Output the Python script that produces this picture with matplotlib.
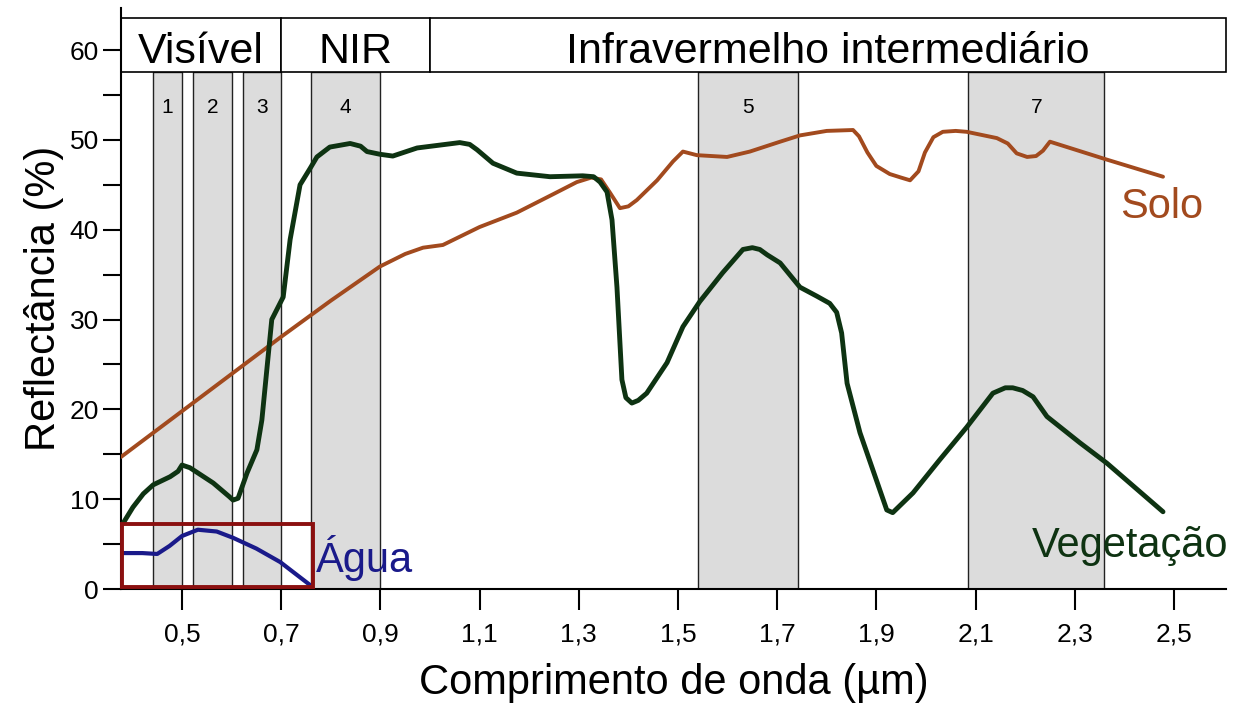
import matplotlib.pyplot as plt
from matplotlib.patches import Rectangle

plt.rcParams['font.family'] = ['Liberation Sans', 'DejaVu Sans']

# curves (wavelength in um, reflectance in %)
solo_x = [0.377, 0.698, 0.80, 0.899, 0.95, 0.986, 1.026, 1.10, 1.175, 1.25, 1.296, 1.325,
          1.345, 1.362, 1.383, 1.40, 1.417, 1.458, 1.49, 1.51, 1.538, 1.599, 1.645, 1.706,
          1.746, 1.80, 1.853, 1.865, 1.882, 1.90, 1.927, 1.95, 1.968, 1.985, 1.998, 2.015,
          2.034, 2.06, 2.082, 2.143, 2.165, 2.183, 2.204, 2.222, 2.236, 2.25, 2.365, 2.478]
solo_y = [14.7, 28.0, 32.1, 35.9, 37.3, 38.0, 38.3, 40.3, 41.9, 44.0, 45.3, 45.8,
          45.6, 44.2, 42.4, 42.6, 43.3, 45.5, 47.6, 48.7, 48.3, 48.1, 48.7, 49.8,
          50.5, 51.0, 51.1, 50.4, 48.6, 47.1, 46.2, 45.8, 45.5, 46.5, 48.6, 50.3,
          50.9, 51.0, 50.9, 50.2, 49.6, 48.5, 48.1, 48.2, 48.8, 49.8, 47.8, 45.9]

veg_x = [0.381, 0.401, 0.422, 0.442, 0.476, 0.492, 0.50, 0.516, 0.563, 0.595, 0.603, 0.613,
         0.631, 0.651, 0.661, 0.671, 0.681, 0.704, 0.718, 0.738, 0.758, 0.772, 0.798, 0.839,
         0.86, 0.873, 0.899, 0.925, 0.974, 1.06, 1.08, 1.095, 1.127, 1.175, 1.242, 1.308,
         1.33, 1.343, 1.357, 1.367, 1.377, 1.387, 1.395, 1.407, 1.42, 1.437, 1.478, 1.51,
         1.544, 1.59, 1.631, 1.65, 1.665, 1.68, 1.706, 1.746, 1.78, 1.806, 1.82, 1.83,
         1.841, 1.867, 1.921, 1.933, 1.974, 2.028, 2.082, 2.135, 2.16, 2.175, 2.195,
         2.216, 2.244, 2.31, 2.365, 2.478]
veg_y = [7.3, 9.1, 10.6, 11.6, 12.5, 13.1, 13.8, 13.5, 11.8, 10.3, 9.9, 10.1,
         12.9, 15.5, 18.8, 24.4, 30.0, 32.5, 38.9, 45.0, 46.8, 48.1, 49.2, 49.6,
         49.3, 48.7, 48.4, 48.2, 49.1, 49.7, 49.5, 48.9, 47.4, 46.3, 45.9, 46.0,
         45.9, 45.3, 44.2, 41.1, 33.6, 23.3, 21.3, 20.7, 21.0, 21.8, 25.2, 29.2,
         32.0, 35.2, 37.8, 38.0, 37.8, 37.2, 36.3, 33.6, 32.6, 31.8, 30.8, 28.5,
         22.9, 17.4, 8.8, 8.5, 10.7, 14.4, 18.0, 21.8, 22.4, 22.4, 22.1,
         21.4, 19.2, 16.3, 14.0, 8.6]

agua_x = [0.377, 0.42, 0.45, 0.475, 0.50, 0.532, 0.57, 0.603, 0.65, 0.698, 0.758]
agua_y = [4.0, 4.0, 3.9, 4.8, 5.9, 6.6, 6.4, 5.7, 4.5, 3.0, 0.45]

# Landsat TM bands
band_names = ['1', '2', '3', '4', '5', '7']
band_start = [0.442, 0.522, 0.623, 0.76, 1.54, 2.085]
band_end = [0.50, 0.60, 0.70, 0.90, 1.742, 2.36]

regions = ['Visível', 'NIR', 'Infravermelho intermediário']
region_edges = [0.377, 0.70, 1.0, 2.605]

fig = plt.figure(figsize=(12.36, 7.07), dpi=100)
ax = fig.add_axes([0.0979, 0.1669, 0.894, 0.822])
ax.set_xlim(0.377, 2.605)
ax.set_ylim(0, 64.7)

box_lo, box_hi = 57.6, 63.6

for name, a, b in zip(band_names, band_start, band_end):
    ax.add_patch(Rectangle((a, 0), b - a, box_lo, facecolor='#dcdcdc',
                           edgecolor='#222222', linewidth=1.0, zorder=1))
    ax.text((a + b) / 2, 53.6, name, ha='center', va='center', fontsize=15, zorder=5)

for name, a, b in zip(regions, region_edges[:-1], region_edges[1:]):
    ax.add_patch(Rectangle((a, box_lo), b - a, box_hi - box_lo, facecolor='white',
                           edgecolor='black', linewidth=1.2, clip_on=False, zorder=2))
    ax.text((a + b) / 2, 58.6, name, ha='center', va='baseline',
            fontsize=31, zorder=5)

ax.plot(solo_x, solo_y, color='#a24a1e', lw=2.8, solid_capstyle='round',
        solid_joinstyle='round', zorder=4)
ax.plot(veg_x, veg_y, color='#0e3312', lw=3.5, solid_capstyle='round',
        solid_joinstyle='round', zorder=4)
ax.plot(agua_x, agua_y, color='#1a1a8a', lw=3.0, solid_capstyle='round',
        solid_joinstyle='round', zorder=4)

ax.add_patch(Rectangle((0.379, 0.25), 0.764 - 0.379, 7.0, facecolor='none',
                       edgecolor='#8b1010', linewidth=2.8, zorder=6, clip_on=False))

ax.text(0.77, 3.4, 'Água', color='#1a1a8a', fontsize=30, ha='left', va='center')
ax.text(2.56, 42.5, 'Solo', color='#a24a1e', fontsize=30, ha='right', va='center')
ax.text(2.61, 4.8, 'Vegetação', color='#0e3312', fontsize=30, ha='right', va='center')

xt = [0.5, 0.7, 0.9, 1.1, 1.3, 1.5, 1.7, 1.9, 2.1, 2.3, 2.5]
ax.set_xticks(xt)
ax.set_xticklabels([f'{v:.1f}'.replace('.', ',') for v in xt], fontsize=19)
ax.set_yticks([0, 10, 20, 30, 40, 50, 60])
ax.set_yticks([5, 15, 25, 35, 45, 55], minor=True)
ax.tick_params(axis='y', which='both', direction='out', length=13, width=1.5, labelsize=19, pad=3)
ax.tick_params(axis='x', direction='out', length=15, width=1.5, pad=9)

for s in ['top', 'right']:
    ax.spines[s].set_visible(False)
for s in ['left', 'bottom']:
    ax.spines[s].set_linewidth(1.5)

ax.set_xlabel('Comprimento de onda (µm)', fontsize=30, labelpad=12)
ax.set_ylabel('Reflectância (%)', fontsize=30, labelpad=4)

fig.savefig('out.png', dpi=100)
